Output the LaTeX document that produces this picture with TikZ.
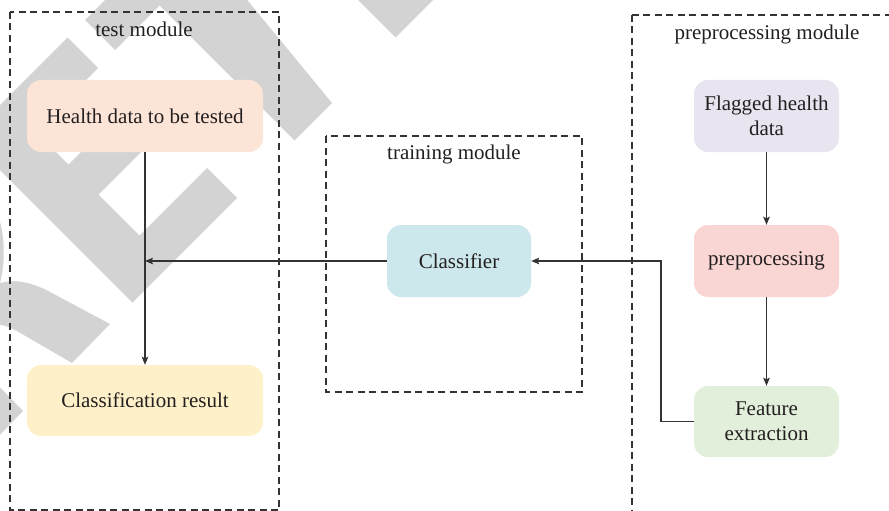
\documentclass[tikz,border=0pt]{standalone}
\usepackage{fontspec}
\setmainfont{Liberation Serif}
\usetikzlibrary{arrows.meta}

\definecolor{wm}{RGB}{211,211,211}
\definecolor{txt}{RGB}{35,31,32}
\definecolor{lin}{RGB}{51,51,51}
\definecolor{cPeach}{RGB}{252,228,214}
\definecolor{cYellow}{RGB}{254,240,200}
\definecolor{cCyan}{RGB}{204,232,236}
\definecolor{cLilac}{RGB}{232,228,240}
\definecolor{cPink}{RGB}{249,214,212}
\definecolor{cGreen}{RGB}{226,239,218}

\tikzset{
  box/.style={rounded corners=14pt, inner sep=0pt, align=center, text=txt,
              font=\fontsize{21}{25}\selectfont},
  module/.style={draw=lin, line width=1.1pt, dash pattern=on 7pt off 4.5pt},
  modlabel/.style={anchor=base, text=txt, font=\fontsize{21}{25}\selectfont},
  arr/.style={draw=lin, line width=1.1pt, -{Stealth[length=8pt,width=6.5pt,inset=1.5pt]}},
  link/.style={draw=lin, line width=1.1pt}
}

\begin{document}
\begin{tikzpicture}[x=1pt,y=-1pt]
\useasboundingbox (0,0) rectangle (889,511);

% background watermark lettering
\begin{scope}
  \clip (0,0) rectangle (889,511);
  \fill[wm] (-32.5,137.5) -- (67.5,37.5) -- (98,68) -- (35,131) -- (68.5,164.5)
        -- (129,104) -- (159,134) -- (98.5,194.5) -- (139.5,235.5) -- (207,168)
        -- (237,198) -- (132.5,302.5) -- cycle;
  \fill[wm] (85,20) -- (115,50) -- (159.5,5.5) -- (294.5,140.5) -- (332,103)
        -- (239,-10) -- (115,-10) -- cycle;
  \fill[wm] (348,-10) -- (395.5,37.5) -- (443,-10) -- cycle;
  \fill[wm] (-5,285) .. controls (10,278) and (30,281) .. (50,292) -- (110,324)
        -- (72,363) -- (22,334) .. controls (12,328) and (5,325) .. (-5,324) -- cycle;
  \fill[wm] (-10,377) -- (23,411) -- (-10,445) -- cycle;
  \fill[wm] (-5,222) -- (0,222) .. controls (5,240) and (5,265) .. (0,283) -- (-5,283) -- cycle;
\end{scope}

% module frames
\draw[module] (10,12) rectangle (279,510);
\draw[module] (326,136) rectangle (582,392);
\draw[module] (632,15) rectangle (895,520);

\node[modlabel] (ltest) at (144,37) {test module};
\node[modlabel] (ltrain) at (454,159) {training module};
\node[modlabel] (lprep) at (767,40) {preprocessing module};

% process boxes
\node[box, fill=cPeach, minimum width=236pt, minimum height=72pt] (health) at (145,116) {Health data to be tested};
\node[box, fill=cYellow, minimum width=236pt, minimum height=71pt] (result) at (145,400.5) {Classification result};
\node[box, fill=cCyan, minimum width=144pt, minimum height=72pt] (classifier) at (459,261) {Classifier};
\node[box, fill=cLilac, minimum width=145pt, minimum height=72pt] (flagged) at (766.5,116) {Flagged health\\data};
\node[box, fill=cPink, minimum width=145pt, minimum height=72pt] (prep) at (766.5,261) {preprocessing};
\node[box, fill=cGreen, minimum width=145pt, minimum height=71pt] (feat) at (766.5,421.5) {Feature\\extraction};

% connectors
\coordinate (join) at (health.south |- classifier.west);
\coordinate (elbow) at (661,421.5);
\draw[arr] (health) -- (result);
\draw[arr] (classifier.west) -- (join);
\draw[arr] (flagged) -- (prep);
\draw[arr] (prep) -- (feat);
\draw[arr] (feat.west) -- (elbow) |- (classifier.east);
\end{tikzpicture}
\end{document}
